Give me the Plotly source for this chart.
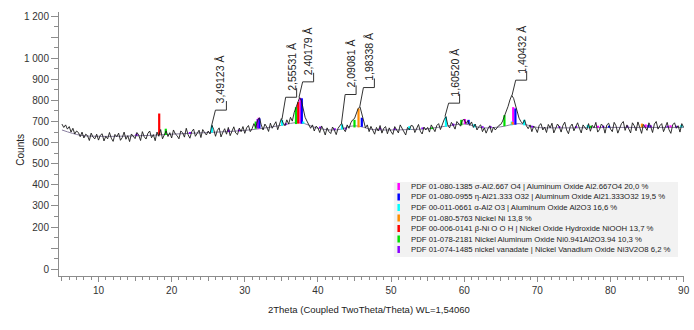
import plotly.graph_objects as go

# ---------------- data ----------------
two_theta_start = 5.0
two_theta_step = 0.25
counts = [
    688, 672, 684, 664, 676, 650, 668, 641, 655, 648, 628, 650, 622, 640, 633, 610, 645, 626, 618, 640,
    612, 635, 642, 608, 630, 618, 648, 621, 606, 639, 628, 645, 611, 624, 650, 616, 633, 605, 641, 627,
    619, 648, 636, 610, 652, 628, 617, 644, 655, 623, 638, 609, 650, 630, 662, 618, 641, 656, 629, 647,
    622, 660, 641, 633, 618, 655, 647, 626, 668, 637, 621, 652, 664, 630, 644, 659, 624, 662, 648, 636,
    655, 641, 684, 662, 630, 658, 670, 627, 649, 666, 640, 672, 633, 657, 675, 646, 638, 669, 652, 676,
    644, 670, 681, 652, 666, 690, 671, 706, 718, 684, 660, 688, 674, 653, 692, 668, 683, 699, 661, 688,
    714, 692, 680, 708, 688, 720, 702, 742, 766, 792, 814, 798, 758, 720, 702, 688, 668, 684, 655, 678,
    670, 648, 679, 661, 636, 670, 652, 643, 674, 659, 638, 668, 680, 692, 664, 652, 684, 668, 694, 708,
    714, 734, 762, 770, 732, 700, 670, 684, 652, 677, 660, 640, 672, 655, 681, 645, 668, 676, 642, 670,
    652, 639, 676, 664, 646, 684, 670, 651, 636, 672, 660, 682, 678, 648, 668, 686, 654, 641, 674, 660,
    672, 650, 684, 667, 652, 681, 690, 662, 688, 708, 724, 684, 670, 696, 682, 664, 700, 686, 678, 706,
    710, 690, 704, 682, 698, 672, 688, 660, 676, 684, 652, 670, 645, 666, 680, 648, 674, 660, 672, 682,
    686, 702, 726, 746, 772, 802, 824, 810, 776, 742, 716, 700, 690, 708, 680, 666, 684, 652, 678, 668,
    648, 682, 690, 660, 674, 648, 686, 670, 692, 646, 664, 688, 676, 650, 682, 697, 660, 642, 676, 688,
    656, 680, 694, 668, 646, 684, 674, 660, 690, 654, 682, 670, 696, 650, 662, 688, 679, 645, 684, 692,
    664, 652, 696, 680, 645, 672, 690, 700, 658, 684, 666, 646, 694, 680, 656, 698, 672, 644, 686, 670,
    658, 694, 676, 648, 688, 700, 664, 680, 690, 652, 672, 696, 661, 644, 684, 694, 668, 680, 650, 690, 672,
]
two_theta = [two_theta_start + i * two_theta_step for i in range(len(counts))]

bg_2theta = [5, 7.5, 10, 12.5, 15, 17.5, 20, 22.5, 25, 27.5, 30, 32.5, 35, 37.5, 40, 42.5, 45, 47.5,
             50, 52.5, 55, 57.5, 60, 62.5, 65, 67.5, 70, 72.5, 75, 77.5, 80, 82.5, 85, 87.5, 90]
bg_counts = [660, 635, 630, 630, 632, 635, 640, 644, 648, 652, 658, 668, 682, 695, 668, 660, 680, 662,
             660, 662, 666, 678, 688, 670, 675, 690, 672, 670, 670, 671, 672, 672, 672, 672, 672]

# sticks: (2theta, base, top)
sticks_sigma = [(31.9, 668, 718), (37.6, 690, 812), (60.1, 688, 712), (66.7, 685, 768),
                (78.3, 671, 680), (84.8, 672, 686), (88.2, 672, 682)]
sticks_eta = [(32.0, 668, 715), (37.8, 690, 810), (46.0, 675, 718), (60.6, 688, 708),
              (67.0, 685, 762), (79.8, 671, 680), (85.2, 672, 684)]
sticks_alpha = [(25.5, 648, 680), (35.1, 680, 708), (38.0, 690, 700), (43.3, 662, 686), (52.5, 660, 678),
                (57.5, 675, 722), (61.4, 672, 688), (66.5, 682, 700), (68.2, 682, 708), (76.9, 670, 684),
                (89.7, 672, 684)]
sticks_ni = [(45.55, 672, 762), (66.6, 685, 698), (84.3, 672, 690)]
sticks_niooh = [(18.3, 636, 738), (37.3, 690, 792)]
sticks_nial = [(19.2, 636, 666), (31.5, 665, 700), (37.0, 688, 768), (45.0, 672, 708), (55.6, 664, 672),
               (59.6, 682, 708), (65.5, 678, 730), (77.3, 670, 680)]
sticks_niv = [(15.2, 632, 642), (22.5, 642, 650), (27.8, 650, 662), (29.2, 654, 662), (31.75, 667, 712),
              (35.6, 683, 692), (40.3, 668, 676), (42.3, 660, 668), (43.8, 662, 670), (48.5, 662, 670),
              (50.5, 660, 668), (54.3, 664, 672), (58.5, 680, 690), (62.5, 670, 678), (63.6, 670, 678),
              (69.3, 671, 680), (73.0, 670, 678), (75.3, 670, 678), (79.0, 671, 680), (82.3, 672, 680),
              (85.5, 672, 682), (87.8, 672, 680), (89.0, 672, 680)]

phase_names = [
    "PDF 01-080-1385 σ-Al2.667 O4 | Aluminum Oxide Al2.667O4 20,0 %",
    "PDF 01-080-0955 η-Al21.333 O32 | Aluminum Oxide Al21.333O32 19,5 %",
    "PDF 00-011-0661 α-Al2 O3 | Aluminum Oxide Al2O3 16,6 %",
    "PDF 01-080-5763 Nickel Ni 13,8 %",
    "PDF 00-006-0141 β-Ni O O H | Nickel Oxide Hydroxide NiOOH 13,7 %",
    "PDF 01-078-2181 Nickel Aluminum Oxide Ni0.941Al2O3.94 10,3 %",
    "PDF 01-074-1485 nickel vanadate | Nickel Vanadium Oxide Ni3V2O8 6,2 %",
]
phase_colors = ["#ff00ff", "#0000ff", "#00ffff", "#ff8c00", "#ff0000", "#00e000", "#8a00ff"]
phase_sticks = [sticks_sigma, sticks_eta, sticks_alpha, sticks_ni, sticks_niooh, sticks_nial, sticks_niv]

label_text = ["3,49123 Å", "2,55531 Å", "2,40179 Å", "2,09081 Å", "1,98338 Å", "1,60520 Å", "1,40432 Å"]
label_2theta = [25.49, 35.09, 37.41, 43.22, 45.72, 57.37, 66.54]
label_peak = [684, 712, 814, 692, 770, 724, 824]
label_bracket = [754, 815, 888, 828, 861, 787, 896]

y_tickvals = [0, 100, 200, 300, 400, 500, 600, 700, 800, 900, 1000, 1100, 1200]
y_ticktext = ["0", "", "200", "300", "400", "500", "600", "700", "800", "900", "1 000", "", "1 200"]
x_tickvals = [10, 20, 30, 40, 50, 60, 70, 80, 90]
x_midticks = [5, 15, 25, 35, 45, 55, 65, 75, 85]

# ---------------- figure ----------------
FONT = "Liberation Sans, Arial, sans-serif"
fig = go.Figure()

fig.add_trace(go.Scatter(x=bg_2theta, y=bg_counts, mode="lines", line=dict(color="#8a7fa0", width=1, shape="spline"),
                         hoverinfo="skip", showlegend=False))

for sticks, color in zip(phase_sticks, phase_colors):
    xs, ys = [], []
    for p, b, t in sticks:
        xs += [p, p, None]
        ys += [b, t, None]
    fig.add_trace(go.Scatter(x=xs, y=ys, mode="lines", line=dict(color=color, width=2.2),
                             hoverinfo="skip", showlegend=False))

fig.add_trace(go.Scatter(x=two_theta, y=counts, mode="lines", line=dict(color="#1a1a1a", width=0.9),
                         showlegend=False))

lx, ly = [], []
for p, pk, bk in zip(label_2theta, label_peak, label_bracket):
    lx += [p, p + 0.5, p + 2.0, p + 2.0, None]
    ly += [pk, bk, bk, bk + 43, None]
fig.add_trace(go.Scatter(x=lx, y=ly, mode="lines", line=dict(color="#333333", width=1),
                         hoverinfo="skip", showlegend=False))

# invisible trace for the 5-degree medium ticks axis
fig.add_trace(go.Scatter(x=[], y=[], xaxis="x2", showlegend=False))

annotations = []
for txt, p, bk in zip(label_text, label_2theta, label_bracket):
    annotations.append(dict(x=p + 1.25, y=bk + 22, text=txt, textangle=-90, showarrow=False,
                            xanchor="center", yanchor="bottom", font=dict(family=FONT, size=10.5, color="#222")))

# axis titles
annotations.append(dict(x=-0.075, y=0.477, xref="paper", yref="paper", text="Counts", textangle=-90,
                        showarrow=False, font=dict(family=FONT, size=10, color="#222")))
annotations.append(dict(x=0.496, y=-0.155, xref="paper", yref="paper",
                        text="2Theta (Coupled TwoTheta/Theta) WL=1,54060",
                        showarrow=False, font=dict(family=FONT, size=9.5, color="#222")))

# legend box
shapes = [dict(type="rect", xref="paper", yref="paper", x0=0.5357, x1=0.9905, y0=0.072, y1=0.356,
               fillcolor="#f2f2f2", line=dict(width=0), layer="above")]
row_y_px = [186.5, 197, 207.5, 218, 228.5, 239, 249.5]
for name, color, py in zip(phase_names, phase_colors, row_y_px):
    yc = (276 - py) / 264.0
    shapes.append(dict(type="rect", xref="paper", yref="paper", x0=0.5415, x1=0.5455,
                       y0=yc - 3.5 / 264, y1=yc + 3.5 / 264, fillcolor=color, line=dict(width=0), layer="above"))
    annotations.append(dict(x=0.5594, y=yc, xref="paper", yref="paper", text=name, showarrow=False,
                            xanchor="left", yanchor="middle", font=dict(family=FONT, size=7.75, color="#222")))

axis_col = "#8c8c8c"
fig.update_layout(
    width=694, height=330,
    margin=dict(l=59, r=4, t=12, b=54),
    paper_bgcolor="white", plot_bgcolor="white",
    font=dict(family=FONT, color="#333"),
    showlegend=False,
    xaxis=dict(range=[4.6, 90.05], tickmode="array", tickvals=x_tickvals, ticks="outside", ticklen=5,
               tickcolor=axis_col, showline=True, linecolor=axis_col, linewidth=1, showgrid=False,
               zeroline=False, tickfont=dict(family=FONT, size=10, color="#333"),
               ticklabeloverflow="allow",
               minor=dict(tickmode="linear", tick0=0, dtick=1, ticks="outside", ticklen=2.5,
                          tickcolor=axis_col, showgrid=False)),
    xaxis2=dict(range=[4.6, 90.05], overlaying="x", anchor="y", side="bottom", tickmode="array",
                tickvals=x_midticks, ticks="outside", ticklen=4, tickcolor=axis_col,
                showticklabels=False, showline=False, showgrid=False, zeroline=False),
    yaxis=dict(range=[-32, 1219], tickmode="array", tickvals=y_tickvals, ticktext=y_ticktext,
               ticks="outside", ticklen=7, tickcolor=axis_col, showline=True, linecolor=axis_col,
               linewidth=1, showgrid=False, zeroline=False, tickfont=dict(family=FONT, size=10, color="#333"),
               minor=dict(tickmode="linear", tick0=0, dtick=50, ticks="outside", ticklen=4,
                          tickcolor=axis_col, showgrid=False)),
    annotations=annotations,
    shapes=shapes,
)

fig.write_html("out.html")
